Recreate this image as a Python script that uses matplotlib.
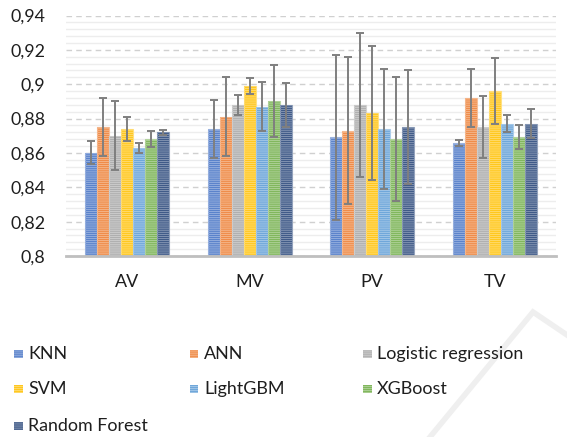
import matplotlib
matplotlib.use("Agg")
import matplotlib.pyplot as plt
import numpy as np
from matplotlib.patches import Rectangle
from matplotlib.ticker import MultipleLocator, FixedLocator, FixedFormatter
from matplotlib.colors import to_rgb

plt.rcParams['font.family'] = ['Lato', 'DejaVu Sans']
plt.rcParams['hatch.linewidth'] = 1.0

categories = ["AV", "MV", "PV", "TV"]
models = ["KNN", "ANN", "Logistic regression", "SVM", "LightGBM", "XGBoost", "Random Forest"]
colors = ["#4472C4", "#ED7D31", "#A5A5A5", "#FFC000", "#5B9BD5", "#70AD47", "#264478"]

# mean score per model and category
knn_mean = [0.860, 0.874, 0.869, 0.866]
ann_mean = [0.875, 0.881, 0.873, 0.892]
lr_mean = [0.870, 0.888, 0.888, 0.875]
svm_mean = [0.874, 0.899, 0.883, 0.896]
lgbm_mean = [0.863, 0.887, 0.874, 0.877]
xgb_mean = [0.868, 0.890, 0.868, 0.869]
rf_mean = [0.872, 0.888, 0.875, 0.877]

# standard deviation per model and category
knn_std = [0.0067, 0.017, 0.048, 0.0017]
ann_std = [0.017, 0.023, 0.043, 0.017]
lr_std = [0.020, 0.006, 0.042, 0.018]
svm_std = [0.007, 0.0047, 0.039, 0.019]
lgbm_std = [0.003, 0.0145, 0.035, 0.005]
xgb_std = [0.0045, 0.021, 0.036, 0.007]
rf_std = [0.0015, 0.013, 0.033, 0.0085]

means = [knn_mean, ann_mean, lr_mean, svm_mean, lgbm_mean, xgb_mean, rf_mean]
stds = [knn_std, ann_std, lr_std, svm_std, lgbm_std, xgb_std, rf_std]

y_ticks = [0.80, 0.82, 0.84, 0.86, 0.88, 0.90, 0.92, 0.94]
y_tick_labels = ["0,8", "0,82", "0,84", "0,86", "0,88", "0,9", "0,92", "0,94"]

TEXT = '#1E1E1E'
FS = 12.9


def lighten(c, f):
    r, g, b = to_rgb(c)
    return (r + (1 - r) * f, g + (1 - g) * f, b + (1 - b) * f)


fig = plt.figure(figsize=(5.67, 4.37), dpi=100)
ax = fig.add_axes([0.1164, 0.4142, 0.8642, 0.5503])

x = np.arange(len(categories)) + 0.5
n = len(models)
bw = 0.098
offsets = (np.arange(n) - (n - 1) / 2) * bw

for i, (m, mu, sd, c) in enumerate(zip(models, means, stds, colors)):
    pos = x + offsets[i]
    ax.bar(pos, np.array(mu) - 0.8, bottom=0.8, width=bw, color=c,
           edgecolor=lighten(c, 0.5), linewidth=0.8, zorder=3)
    ax.bar(pos, np.array(mu) - 0.8, bottom=0.8, width=bw, facecolor='none',
           edgecolor=lighten(c, 0.4), hatch='--------', linewidth=0, zorder=3.5)
    ax.errorbar(pos, mu, yerr=sd, fmt='none', ecolor='#7F7F7F',
                elinewidth=1.4, capsize=2.8, capthick=1.4, zorder=4)

ax.set_xlim(0, 4)
ax.set_ylim(0.8, 0.94)
ax.yaxis.set_major_locator(FixedLocator(y_ticks))
ax.yaxis.set_major_formatter(FixedFormatter(y_tick_labels))
ax.yaxis.set_minor_locator(MultipleLocator(0.004))
ax.set_xticks(x)
ax.set_xticklabels(categories)

ax.grid(axis='y', which='major', color='#D0D0D0', linestyle=(0, (4, 3)), linewidth=1.0, zorder=0)
ax.grid(axis='y', which='minor', color='#EDEDED', linestyle='-', linewidth=1.0, zorder=0)
ax.tick_params(axis='both', which='both', length=0, labelsize=FS, labelcolor=TEXT)
ax.tick_params(axis='y', pad=15)
ax.tick_params(axis='x', pad=13)

for s in ['top', 'right', 'left']:
    ax.spines[s].set_visible(False)
ax.spines['bottom'].set_color('#BFBFBF')
ax.spines['bottom'].set_linewidth(2.0)
ax.spines['bottom'].set_zorder(5)

# legend laid out in three evenly spaced columns
col_x = [14, 190, 363]
row_y = [354, 389, 426]
W, H = 567.0, 437.0
sq = 8.5
for i, (m, c) in enumerate(zip(models, colors)):
    cx = col_x[i % 3]
    cy = row_y[i // 3]
    fig.patches.append(Rectangle((cx / W, (H - cy - sq / 2) / H), sq / W, sq / H,
                                 transform=fig.transFigure, facecolor=c,
                                 edgecolor=lighten(c, 0.4), hatch='--------',
                                 linewidth=0))
    fig.text((cx + sq + 5.5) / W, (H - cy) / H, m, fontsize=FS, color=TEXT,
             va='center', ha='left')

# faint chevron stroke across the lower right corner
fig.add_artist(plt.Line2D([430 / W, 533 / W, 567 / W], [0, (H - 312) / H, (H - 335) / H],
                          transform=fig.transFigure, color='#EFEFEF', linewidth=4,
                          solid_joinstyle='miter', zorder=-1))

fig.savefig("out.png", dpi=100)
